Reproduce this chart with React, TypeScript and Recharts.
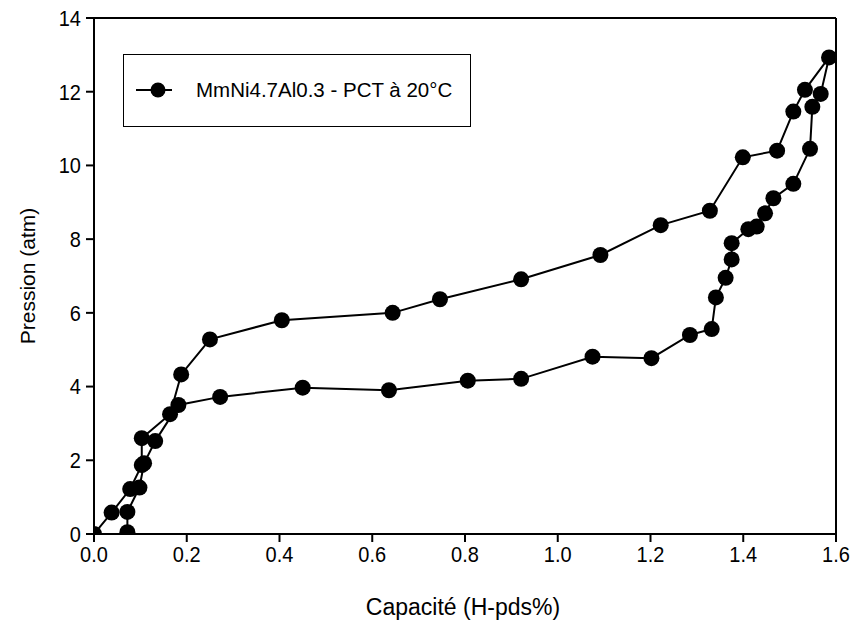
import React from 'react';
import { ScatterChart, Scatter, XAxis, YAxis, ReferenceLine } from 'recharts';

// PCT isotherm, MmNi4.7Al0.3 at 20°C: absorption (upper branch) then desorption back down
const capacite = [
  0, 0.038, 0.078, 0.103, 0.103, 0.164, 0.188, 0.25, 0.405, 0.644, 0.746, 0.921, 1.092, 1.222,
  1.328, 1.399, 1.473, 1.508, 1.533, 1.585,
  1.567, 1.549, 1.544, 1.508, 1.465, 1.447, 1.429, 1.411, 1.375, 1.375, 1.362, 1.341, 1.332,
  1.285, 1.202, 1.075, 0.921, 0.806, 0.636, 0.45, 0.272, 0.182, 0.132, 0.108, 0.098, 0.072, 0.072,
];
const pression = [
  0, 0.58, 1.22, 1.87, 2.6, 3.25, 4.33, 5.28, 5.8, 6.0, 6.37, 6.91, 7.57, 8.38,
  8.77, 10.22, 10.4, 11.46, 12.05, 12.93,
  11.94, 11.59, 10.45, 9.5, 9.11, 8.7, 8.34, 8.27, 7.89, 7.45, 6.95, 6.42, 5.56,
  5.4, 4.77, 4.81, 4.21, 4.16, 3.9, 3.97, 3.72, 3.5, 2.52, 1.92, 1.26, 0.6, 0.05,
];
const xTicks = [0, 0.2, 0.4, 0.6, 0.8, 1.0, 1.2, 1.4, 1.6];
const yTicks = [0, 2, 4, 6, 8, 10, 12, 14];
const seriesName = 'MmNi4.7Al0.3 - PCT à 20°C';

const data = capacite.map((x, i) => ({ x, y: pression[i] }));

const FONT = '"Liberation Sans", Arial, sans-serif';

const Dot = (props: any) => <circle cx={props.cx} cy={props.cy} r={8} fill="#000" />;

// scanned figure: digits look a bit taller than wide
const stretch = (y: number) => `translate(0, ${y}) scale(1, 1.12) translate(0, ${-y})`;

const XTick = (props: any) => (
  <text x={props.x} y={props.y} textAnchor="middle" fontSize={20} fontFamily={FONT} fill="#000"
    transform={stretch(props.y)} dy={15}>
    {props.payload.value.toFixed(1)}
  </text>
);

const YTick = (props: any) => (
  <text x={props.x} y={props.y} textAnchor="end" fontSize={20} fontFamily={FONT} fill="#000"
    transform={stretch(props.y)} dy={7}>
    {props.payload.value}
  </text>
);

export default function App() {
  return (
    <div style={{ position: 'absolute', left: 0, top: 0, width: 852, height: 624, background: '#fff', fontFamily: FONT }}>
      <ScatterChart width={852} height={624} margin={{ top: 18, right: 16, bottom: 60, left: 34 }}>
        <XAxis
          type="number"
          dataKey="x"
          domain={[0, 1.6]}
          ticks={xTicks}
          stroke="#000"
          strokeWidth={2}
          tickSize={8}
          tickMargin={3}
          height={30}
          tick={<XTick />}
          allowDataOverflow
        />
        <YAxis
          type="number"
          dataKey="y"
          domain={[0, 14]}
          ticks={yTicks}
          stroke="#000"
          strokeWidth={2}
          tickSize={8}
          tickMargin={5}
          width={60}
          tick={<YTick />}
          allowDataOverflow
        />
        <ReferenceLine y={14} stroke="#000" strokeWidth={2} />
        <ReferenceLine x={1.6} stroke="#000" strokeWidth={2} />
        <Scatter
          data={data}
          line={{ stroke: '#000', strokeWidth: 2 }}
          lineType="joint"
          shape={Dot}
          isAnimationActive={false}
        />
      </ScatterChart>

      {/* axis titles */}
      <div
        style={{
          position: 'absolute', left: 463, top: 607, fontSize: 23, whiteSpace: 'nowrap',
          transform: 'translate(-50%, -50%)',
        }}
      >
        Capacité (H-pds%)
      </div>
      <div
        style={{
          position: 'absolute', left: 28, top: 276, fontSize: 21, whiteSpace: 'nowrap',
          transform: 'translate(-50%, -50%) rotate(-90deg)',
        }}
      >
        Pression (atm)
      </div>

      {/* legend */}
      <div
        style={{
          position: 'absolute', left: 123, top: 54, width: 348, height: 73,
          border: '1.5px solid #000', boxSizing: 'border-box',
        }}
      >
        <svg width={60} height={70} style={{ position: 'absolute', left: 10, top: 0 }}>
          <line x1={2} y1={35} x2={38} y2={35} stroke="#000" strokeWidth={2} />
          <circle cx={24} cy={35} r={7.5} fill="#000" />
        </svg>
        <div
          style={{
            position: 'absolute', left: 72, top: 35, fontSize: 20.5, whiteSpace: 'nowrap',
            transform: 'translateY(-50%)',
          }}
        >
          {seriesName}
        </div>
      </div>
    </div>
  );
}
